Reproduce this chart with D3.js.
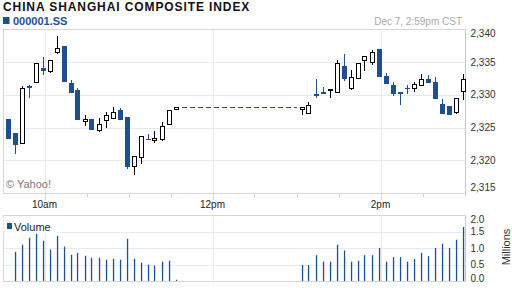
<!DOCTYPE html>
<html>
<head>
<meta charset="utf-8">
<script src="https://cdn.jsdelivr.net/npm/d3@7"></script>
<style>
  body { margin: 0; background: #fff; }
  svg { display: block; font-family: Arial, 'Liberation Sans', sans-serif; }
</style>
</head>
<body>
<svg id="chart" width="512" height="288"></svg>
<script>
// 5-minute bars, Shanghai time
const times = [
  '09:35', '09:40', '09:45', '09:50', '09:55', '10:00', '10:05', '10:10', '10:15', '10:20',
  '10:25', '10:30', '10:35', '10:40', '10:45', '10:50', '10:55', '11:00', '11:05', '11:10',
  '11:15', '11:20', '11:25', '11:30', '11:35',
  '13:05', '13:10', '13:15', '13:20', '13:25', '13:30', '13:35', '13:40', '13:45', '13:50',
  '13:55', '14:00', '14:05', '14:10', '14:15', '14:20', '14:25', '14:30', '14:35', '14:40',
  '14:45', '14:50', '14:55', '15:00',
];
const opens = [
  2326.3, 2324.2, 2322.6, 2331.4, 2331.9, 2334.1, 2333.6, 2336.5, 2337.5, 2331.8,
  2330.8, 2326.2, 2326.3, 2324.5, 2326.1, 2326.4, 2327.7, 2326.6, 2319.0, 2320.5,
  2323.3, 2323.3, 2323.2, 2325.5, 2327.7,
  2327.8, 2327.2, 2330.1, 2330.4, 2330.7, 2330.4, 2334.4, 2331.0, 2332.5, 2335.3,
  2334.9, 2337.0, 2332.9, 2331.5, 2330.5, 2331.1, 2331.0, 2331.5, 2332.4, 2331.9,
  2328.6, 2328.3, 2327.3, 2330.5,
];
const highs = [
  2326.3, 2324.2, 2331.4, 2331.5, 2334.8, 2335.8, 2335.3, 2339.0, 2337.5, 2332.3,
  2331.0, 2326.9, 2326.3, 2326.4, 2327.4, 2328.1, 2328.0, 2326.6, 2320.6, 2323.6,
  2324.0, 2324.5, 2325.9, 2327.7, 2328.1,
  2328.1, 2328.9, 2332.4, 2331.2, 2330.9, 2335.3, 2336.3, 2333.8, 2334.8, 2335.8,
  2336.9, 2337.0, 2333.3, 2331.9, 2330.5, 2331.5, 2332.0, 2333.2, 2333.1, 2332.7,
  2329.4, 2328.3, 2329.5, 2333.2,
];
const lows = [
  2323.3, 2321.0, 2322.6, 2329.6, 2331.9, 2333.1, 2333.3, 2336.2, 2332.0, 2330.3,
  2326.1, 2325.3, 2324.7, 2324.3, 2325.0, 2326.3, 2326.2, 2318.6, 2317.8, 2319.4,
  2323.2, 2322.6, 2323.0, 2325.5, 2327.7,
  2326.9, 2327.2, 2329.6, 2330.3, 2329.6, 2330.4, 2332.2, 2330.8, 2332.5, 2333.7,
  2334.6, 2332.8, 2331.7, 2329.9, 2328.5, 2330.1, 2330.4, 2331.5, 2331.8, 2329.4,
  2327.1, 2326.9, 2327.1, 2329.2,
];
const closes = [
  2323.3, 2322.4, 2331.0, 2331.0, 2334.8, 2333.7, 2335.3, 2337.1, 2332.0, 2330.3,
  2326.1, 2326.2, 2324.7, 2325.5, 2326.9, 2327.3, 2326.2, 2318.9, 2320.6, 2323.6,
  2323.2, 2323.3, 2325.2, 2327.6, 2328.1,
  2328.1, 2328.4, 2330.0, 2330.3, 2330.9, 2334.8, 2332.5, 2332.7, 2334.8, 2335.8,
  2336.5, 2332.8, 2331.7, 2330.2, 2330.1, 2331.0, 2331.6, 2332.3, 2331.8, 2329.4,
  2327.1, 2326.9, 2329.5, 2332.4,
];
// millions of shares
const volumes = [
  null, 0.89, 1.11, 1.32, 1.44, 1.23, 0.96, 1.38, 1.05, 0.80,
  0.86, 0.77, 0.71, 0.71, 0.65, 0.68, 0.65, 1.29, 0.68, 0.56,
  0.50, 0.47, 0.59, 0.62, 0.04,
  0.49, 0.49, 0.79, 0.59, 0.59, 1.11, 0.93, 0.59, 0.62, 0.79,
  0.79, 1.01, 0.59, 0.73, 0.73, 0.59, 0.67, 0.86, 0.76, 1.01,
  1.14, 1.01, 1.26, 1.65,
];

const priceTicks = [2315, 2320, 2325, 2330, 2335, 2340];
const volumeTicks = [0, 0.5, 1, 1.5, 2];
const labelTimes = ['10:00', '12:00', '14:00'];

const blue = '#1d508c';
const gridColor = '#e6ebf3';
const frameColor = '#d6d6d6';

const parseTime = d3.timeParse('%H:%M');
const bars = times.map((t, i) => ({
  time: parseTime(t),
  open: opens[i],
  high: highs[i],
  low: lows[i],
  close: closes[i],
  volume: volumes[i],
}));

const svg = d3.select('#chart');

const x = d3.scaleTime()
  .domain([parseTime('09:30'), parseTime('15:00')])
  .range([2.5, 464.5]);
const y = d3.scaleLinear().domain([2315, 2340]).range([193, 29.5]);
const yVol = d3.scaleLinear().domain([0, 2]).range([281, 215.5]);

const left = 3;
const right = 465.5;
const cx = (d) => Math.round(x(d.time)) - 1.5;

// header
svg.append('text')
  .attr('x', 3).attr('y', 10.5)
  .attr('font-size', 12).attr('font-weight', 'bold')
  .attr('letter-spacing', 0.9)
  .attr('fill', '#111')
  .text('CHINA SHANGHAI COMPOSITE INDEX');
svg.append('rect')
  .attr('x', 3).attr('y', 17).attr('width', 6.5).attr('height', 7)
  .attr('fill', blue);
svg.append('text')
  .attr('x', 13).attr('y', 24.5)
  .attr('font-size', 11).attr('font-weight', 'bold')
  .attr('fill', blue)
  .text('000001.SS');
svg.append('text')
  .attr('x', 462).attr('y', 24.5)
  .attr('text-anchor', 'end')
  .attr('font-size', 10)
  .attr('fill', '#aaa')
  .text('Dec 7, 2:59pm CST');

// grid
const grid = svg.append('g').attr('stroke', gridColor).attr('shape-rendering', 'crispEdges');
grid.selectAll('.hgrid')
  .data(priceTicks.slice(1, -1))
  .join('line')
  .attr('x1', left).attr('x2', right)
  .attr('y1', (d) => Math.round(y(d)) + 0.5)
  .attr('y2', (d) => Math.round(y(d)) + 0.5);
grid.selectAll('.vgrid')
  .data(volumeTicks.slice(1, -1))
  .join('line')
  .attr('x1', left).attr('x2', right)
  .attr('y1', (d) => Math.round(yVol(d)) + 0.5)
  .attr('y2', (d) => Math.round(yVol(d)) + 0.5);
labelTimes.forEach((t) => {
  const gx = Math.round(x(parseTime(t))) + 0.5;
  grid.append('line').attr('x1', gx).attr('x2', gx).attr('y1', y(2340)).attr('y2', y(2315));
  grid.append('line').attr('x1', gx).attr('x2', gx).attr('y1', yVol(2)).attr('y2', yVol(0));
});

// frames
const frame = svg.append('g').attr('stroke', frameColor).attr('shape-rendering', 'crispEdges');
[[y(2340), y(2315)], [yVol(2), yVol(0)]].forEach(([top, bottom]) => {
  frame.append('line').attr('x1', left).attr('x2', right).attr('y1', top).attr('y2', top);
  frame.append('line').attr('x1', left).attr('x2', right).attr('y1', bottom).attr('y2', bottom);
  frame.append('line').attr('x1', left).attr('x2', left).attr('y1', top).attr('y2', bottom);
  frame.append('line').attr('x1', right).attr('x2', right).attr('y1', top).attr('y2', bottom)
    .attr('stroke', '#c8c8c8');
});

// time ticks between the panels
const tickTimes = d3.timeMinute.every(30).range(parseTime('10:00'), parseTime('15:01'));
frame.selectAll('.tick')
  .data(tickTimes)
  .join('line')
  .attr('x1', (d) => Math.round(x(d)) + 0.5)
  .attr('x2', (d) => Math.round(x(d)) + 0.5)
  .attr('y1', y(2315))
  .attr('y2', (d) => y(2315) + (d.getHours() % 2 === 0 && d.getMinutes() === 0 ? 7 : 4));

svg.selectAll('.xlabel')
  .data(labelTimes)
  .join('text')
  .attr('x', (t) => x(parseTime(t)))
  .attr('y', 207.5)
  .attr('text-anchor', 'middle')
  .attr('font-size', 10)
  .attr('fill', '#222')
  .text((t) => d3.timeFormat('%-I%p')(parseTime(t)).toLowerCase());

// price axis labels
svg.selectAll('.ylabel')
  .data(priceTicks)
  .join('text')
  .attr('x', 470.5)
  .attr('y', (d) => y(d) + (d === 2340 ? 7 : d === 2315 ? -2.5 : 3.5))
  .attr('font-size', 10)
  .attr('fill', '#333')
  .text(d3.format(','));

svg.selectAll('.vlabel')
  .data(volumeTicks)
  .join('text')
  .attr('x', 470.5)
  .attr('y', (d) => yVol(d) + (d === 2 ? 7.5 : d === 0 ? 0.5 : 3.5))
  .attr('font-size', 10)
  .attr('fill', '#333')
  .text(d3.format('.1f'));

svg.append('text')
  .attr('transform', 'translate(510,247) rotate(-90)')
  .attr('text-anchor', 'middle')
  .attr('font-size', 11)
  .attr('fill', '#333')
  .text('Millions');

svg.append('text')
  .attr('x', 6).attr('y', 187.5)
  .attr('font-size', 11)
  .attr('fill', '#777')
  .text('\u00a9 Yahoo!');

// lunch break: carry the morning close across
const lastMorning = bars[24];
svg.append('line')
  .attr('x1', cx(lastMorning) + 5)
  .attr('x2', x(parseTime('13:00')))
  .attr('y1', Math.round(y(lastMorning.close)) + 0.5)
  .attr('y2', Math.round(y(lastMorning.close)) + 0.5)
  .attr('stroke', blue)
  .attr('stroke-dasharray', '5,3')
  .attr('shape-rendering', 'crispEdges');

// candles
const candles = svg.append('g').attr('shape-rendering', 'crispEdges');
const candle = candles.selectAll('g')
  .data(bars)
  .join('g');

candle.append('line')
  .attr('x1', (d) => cx(d))
  .attr('x2', (d) => cx(d))
  .attr('y1', (d) => y(d.high))
  .attr('y2', (d) => y(d.low))
  .attr('stroke', (d) => (d.close >= d.open ? '#000' : blue));

candle.append('rect')
  .attr('x', (d) => (d.close >= d.open ? cx(d) - 2 : cx(d) - 2.5))
  .attr('width', (d) => (d.close >= d.open ? 4 : 5))
  .attr('y', (d) => y(Math.max(d.open, d.close)))
  .attr('height', (d) => Math.max(1.5, Math.abs(y(d.open) - y(d.close))))
  .attr('fill', (d) => (d.close >= d.open ? '#fff' : blue))
  .attr('stroke', (d) => (d.close >= d.open ? '#000' : 'none'));

// volume
svg.append('g')
  .selectAll('rect')
  .data(bars.filter((d) => d.volume != null))
  .join('rect')
  .attr('x', (d) => cx(d) - 0.6)
  .attr('width', 1.3)
  .attr('y', (d) => yVol(d.volume))
  .attr('height', (d) => yVol(0) - yVol(d.volume))
  .attr('fill', blue);

// volume legend
svg.append('rect')
  .attr('x', 3.5).attr('y', 216.5).attr('width', 55).attr('height', 17)
  .attr('fill', '#fff');
svg.append('rect')
  .attr('x', 7).attr('y', 223).attr('width', 5).attr('height', 6)
  .attr('fill', blue);
svg.append('text')
  .attr('x', 14).attr('y', 231)
  .attr('font-size', 11)
  .attr('fill', '#222')
  .text('Volume');
</script>
</body>
</html>
